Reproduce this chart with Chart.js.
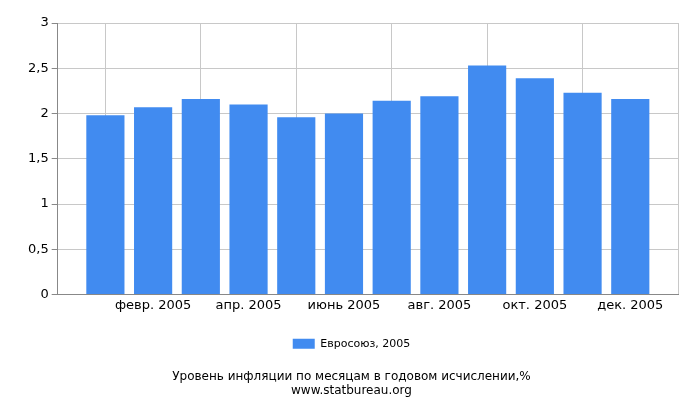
<!DOCTYPE html>
<html><head><meta charset="utf-8">
<script src="https://cdn.jsdelivr.net/npm/chart.js@4/dist/chart.umd.min.js"></script>
<style>body{margin:0;background:#fff}#w{width:700px;height:400px}</style>
</head><body><div id="w"><canvas id="c"></canvas></div>
<script>
const months = ["янв. 2005","февр. 2005","март 2005","апр. 2005","май 2005","июнь 2005","июль 2005","авг. 2005","сент. 2005","окт. 2005","нояб. 2005","дек. 2005"];
const values = [1.98,2.07,2.16,2.10,1.96,2.00,2.14,2.19,2.53,2.39,2.23,2.16];
const labeledMonths = [2,4,6,8,10,12];
const seriesName = "Евросоюз, 2005";
const titleText = "Уровень инфляции по месяцам в годовом исчислении,%";
const subText = "www.statbureau.org";

Chart.defaults.font.family = "DejaVu Sans";
Chart.defaults.font.size = 12;
Chart.defaults.color = "#000";
new Chart(document.getElementById('c'), {
  type: 'bar',
  data: { datasets: [{ label: seriesName, data: values.map((v,i)=>({x:i+1,y:v})),
    backgroundColor: '#418bf0', barPercentage: 0.8, categoryPercentage: 1 }] },
  options: {
    responsive: true, maintainAspectRatio: false, animation: false,
    layout: { padding: { left: 25, right: 22, top: 23, bottom: 2 } },
    scales: {
      x: { type: 'linear', min: 0, max: 13, offset: false,
        afterBuildTicks: a => { a.ticks = labeledMonths.map(v=>({value:v})); },
        ticks: { callback: v => months[v-1], autoSkip: false, maxRotation: 0, font:{size:13} },
        grid: { color: '#c8c8c8', drawTicks: false }, border: { color: '#888' } },
      y: { min: 0, max: 3, ticks: { stepSize: 0.5, callback: v => String(v).replace('.', ','), font:{size:13} },
        grid: { color: '#c8c8c8', tickLength: 6, tickColor: '#888' }, border: { color: '#888' } }
    },
    plugins: {
      legend: { position: 'bottom', labels: { boxWidth: 22, boxHeight: 10, padding: 22, font:{size:11} } },
      title: { display: true, text: subText, position: 'bottom', font:{size:12, weight:'normal'}, padding:{top:0,bottom:0} },
      subtitle: { display: true, text: titleText, position: 'bottom', font:{size:12}, padding:{top:10,bottom:0} },
      tooltip: { enabled: false }
    }
  }
});
</script></body></html>
